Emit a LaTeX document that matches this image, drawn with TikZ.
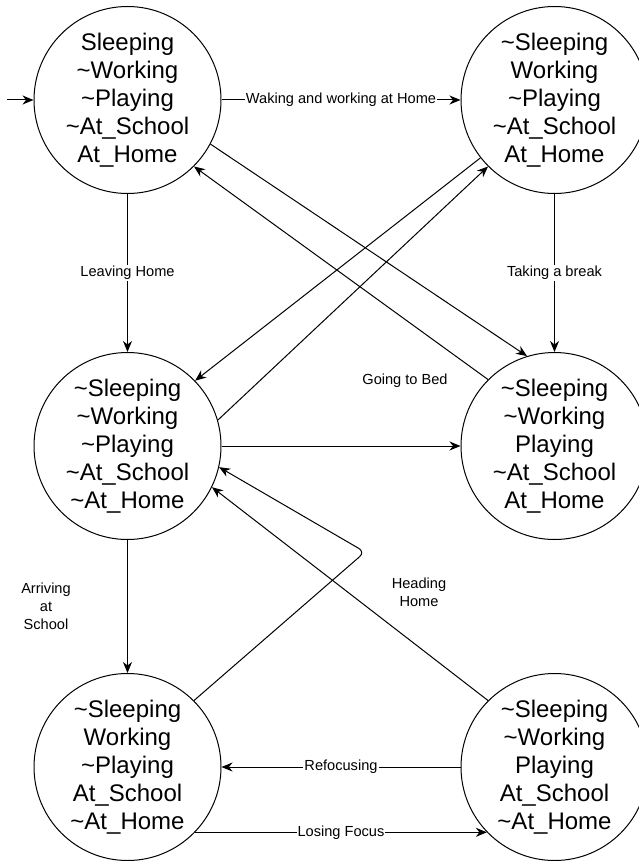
\documentclass[tikz,border=0pt]{standalone}
\usepackage{fontspec}
\setmainfont{Liberation Sans}
\usetikzlibrary{arrows.meta}
\begin{document}
\begin{tikzpicture}[x=1pt,y=-1pt,
  state/.style={draw, circle, line width=1pt, minimum size=187pt, inner sep=0pt,
    align=center, font=\fontsize{24}{28}\selectfont},
  trans/.style={draw, line width=1pt, -{Stealth[length=11pt,width=9pt,inset=3.5pt]}},
  lbl/.style={fill=white, inner sep=1pt, font=\fontsize{14.6}{18}\selectfont, align=center},
  note/.style={inner sep=0pt, font=\fontsize{14.6}{18}\selectfont, align=center}]
\useasboundingbox (0,0) rectangle (639,861);
\clip (0,0) rectangle (639,861);

% states
\node[state] (s1) at (127.5,100) {Sleeping\\\textasciitilde Working\\\textasciitilde Playing\\\textasciitilde At\_School\\At\_Home};
\node[state] (s2) at (554.5,100) {\textasciitilde Sleeping\\Working\\\textasciitilde Playing\\\textasciitilde At\_School\\At\_Home};
\node[state] (s3) at (127.5,446) {\textasciitilde Sleeping\\\textasciitilde Working\\\textasciitilde Playing\\\textasciitilde At\_School\\\textasciitilde At\_Home};
\node[state] (s4) at (554.5,446) {\textasciitilde Sleeping\\\textasciitilde Working\\Playing\\\textasciitilde At\_School\\At\_Home};
\node[state] (s5) at (127.5,767) {\textasciitilde Sleeping\\Working\\\textasciitilde Playing\\At\_School\\\textasciitilde At\_Home};
\node[state] (s6) at (554.5,767) {\textasciitilde Sleeping\\\textasciitilde Working\\Playing\\At\_School\\\textasciitilde At\_Home};

% free end of the initial arrow and the bend of the return path
\coordinate (init) at (7,100);
\coordinate (bend) at (365,552);

% transitions
\draw[trans] (init) -- (s1.west);
\draw[trans] (s1.east) -- node[lbl] {Waking and working at Home} (s2.west);
\draw[trans] (s1.south) -- node[lbl] {Leaving Home} (s3.north);
\draw[trans] (s2.south) -- node[lbl] {Taking a break} (s4.north);
\draw[trans] (s1.-28.5) -- (s4.107.4);
\draw[trans] (s4.135) -- (s1.-45);
\draw[trans] (s3.16) -- (s2.225);
\draw[trans] (s2.218.4) -- (s3.44.4);
\draw[trans] (s3.east) -- (s4.west);
\draw[trans] (s3.south) -- (s5.north);
\draw[trans, rounded corners=7pt] (s5.45) -- (bend) -- (s3.-13);
\draw[trans] (s6.135) -- (s3.-26.4);
\draw[trans] (s6.west) -- node[lbl] {Refocusing} (s5.east);
\draw[trans] (s5.-44) -- node[lbl] {Losing Focus} (s6.224);

% free-standing labels
\node[note] (bedlbl) at (405,381) {Going to Bed};
\node[note] (homelbl) at (419,592) {Heading\\Home};
\node[note] (schoollbl) at (46,606) {Arriving\\at\\School};
\end{tikzpicture}
\end{document}
